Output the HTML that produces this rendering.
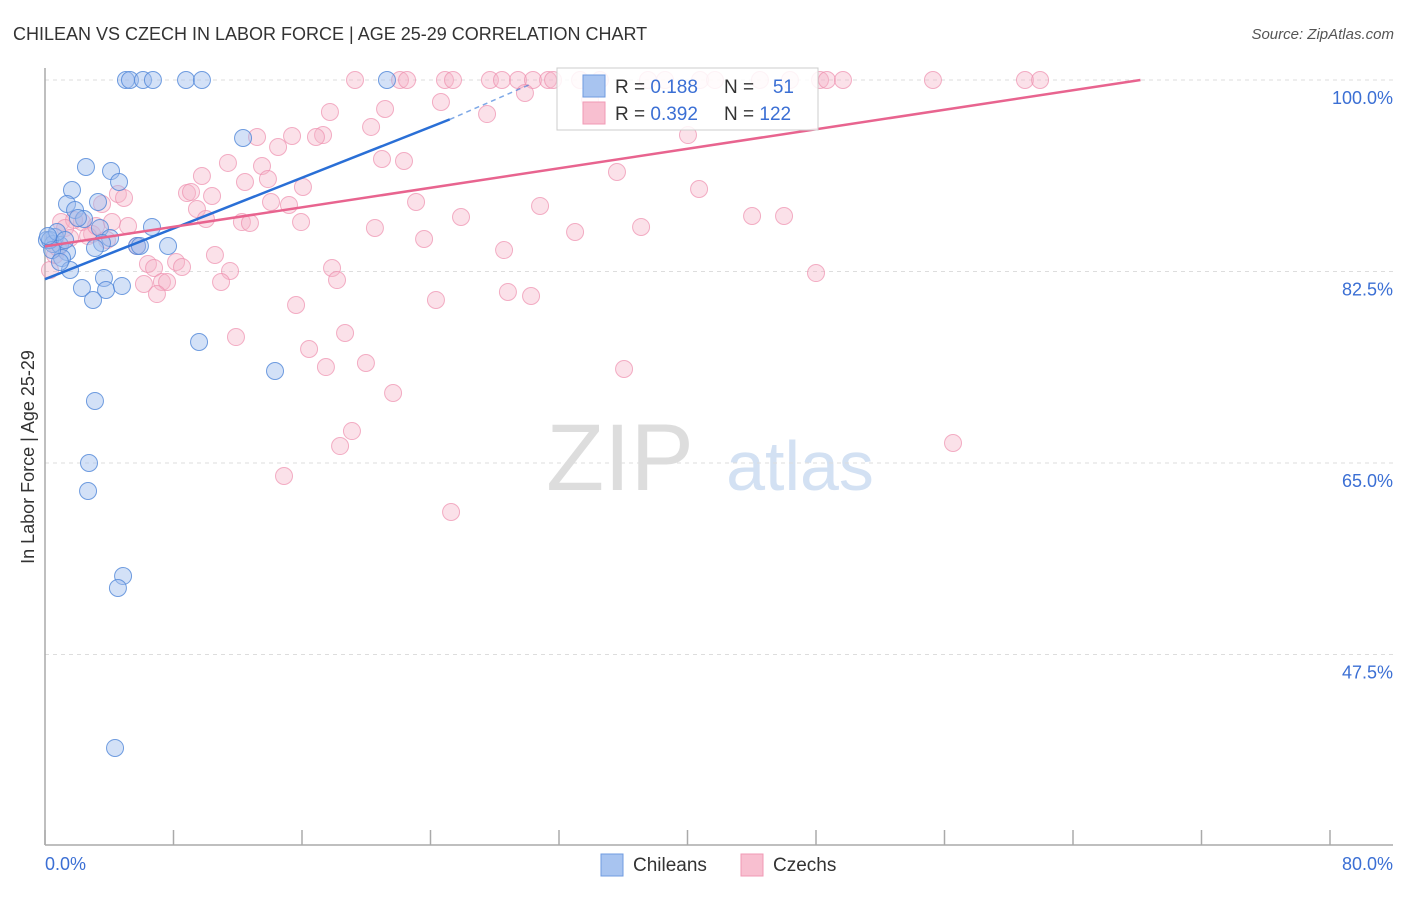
<!DOCTYPE html>
<html><head><meta charset="utf-8"><style>
body{margin:0;background:#fff;font-family:"Liberation Sans",sans-serif}
svg text{font-family:"Liberation Sans",sans-serif}
</style></head><body>
<svg id="c" width="1406" height="892" viewBox="0 0 1406 892" xmlns="http://www.w3.org/2000/svg">
<text x="13" y="40" font-size="18" fill="#333">CHILEAN VS CZECH IN LABOR FORCE | AGE 25-29 CORRELATION CHART</text>
<text x="1394" y="39" font-size="15" fill="#555" font-style="italic" text-anchor="end">Source: ZipAtlas.com</text>
<text x="620" y="490" font-size="95" fill="#ddd" font-family="Liberation Serif" text-anchor="middle">ZIP</text>
<text x="800" y="490" font-size="70" fill="#d3e1f3" text-anchor="middle">atlas</text>
<g id="grid"></g>
<g id="axes"></g>
<g id="pts"></g>
<g id="lines"></g>
<text transform="translate(34,457) rotate(-90)" font-size="18" fill="#333" text-anchor="middle">In Labor Force | Age 25-29</text>
<g>
<rect x="557" y="68" width="261" height="62" fill="#fff" fill-opacity="0.85" stroke="#ccc"/>
<rect x="583" y="75" width="22" height="22" fill="#a8c4f0" stroke="#6f9be0"/>
<rect x="583" y="102" width="22" height="22" fill="#f8bfd0" stroke="#f09ab5"/>
<text x="615" y="93" font-size="19" fill="#333">R = <tspan fill="#3b6fd4">0.188</tspan></text>
<text x="724" y="93" font-size="19" fill="#333">N =</text>
<text x="794" y="93" font-size="19" fill="#3b6fd4" text-anchor="end">51</text>
<text x="615" y="120" font-size="19" fill="#333">R = <tspan fill="#3b6fd4">0.392</tspan></text>
<text x="724" y="120" font-size="19" fill="#333">N = <tspan fill="#3b6fd4">122</tspan></text>
</g>
<g>
<rect x="601" y="854" width="22" height="22" fill="#a8c4f0" stroke="#6f9be0"/>
<text x="633" y="871" font-size="19" fill="#333">Chileans</text>
<rect x="741" y="854" width="22" height="22" fill="#f8bfd0" stroke="#f09ab5"/>
<text x="773" y="871" font-size="19" fill="#333">Czechs</text>
</g>
</svg>
<script>
const yTicks=[100,82.5,65,47.5];
const yTickLabels=["100.0%","82.5%","65.0%","47.5%"];
const xTicks=[0,8,16,24,32,40,48,56,64,72,80];
const chileanPx=[[126,80],[130,80],[143,80],[153,80],[186,80],[202,80],[387,80],[243,138],[86,167],[111,171],[119,182],[72,190],[67,204],[98,202],[75,210],[84,219],[152,227],[100,228],[55,237],[110,238],[47,240],[53,244],[60,245],[102,243],[137,246],[168,246],[95,248],[67,252],[62,258],[70,270],[82,288],[104,278],[106,290],[122,286],[93,300],[199,342],[275,371],[95,401],[89,463],[88,491],[123,576],[118,588],[115,748],[50,240],[57,232],[65,240],[78,218],[140,246],[52,250],[48,236],[60,262]];
const czechPx=[[355,80],[400,80],[407,80],[445,80],[453,80],[490,80],[502,80],[518,80],[533,80],[548,80],[553,80],[580,80],[600,80],[648,80],[665,80],[700,80],[715,80],[760,80],[790,80],[820,80],[827,80],[843,80],[933,80],[1025,80],[1040,80],[441,102],[525,93],[487,114],[590,100],[330,112],[385,109],[371,127],[257,137],[292,136],[323,135],[316,137],[278,147],[688,135],[228,163],[262,166],[382,159],[404,161],[202,176],[245,182],[268,179],[617,172],[699,189],[303,187],[187,193],[191,192],[212,196],[118,194],[124,198],[102,204],[271,202],[289,205],[197,209],[206,219],[242,222],[250,223],[301,222],[416,202],[461,217],[540,206],[752,216],[784,216],[61,222],[82,222],[74,220],[112,222],[128,226],[375,228],[424,239],[575,232],[641,227],[92,234],[107,240],[137,246],[504,250],[215,255],[148,264],[176,262],[182,267],[154,268],[230,271],[332,268],[816,273],[162,282],[167,282],[144,284],[157,294],[221,282],[337,280],[508,292],[531,296],[436,300],[296,305],[236,337],[345,333],[309,349],[326,367],[366,363],[624,369],[393,393],[352,431],[340,446],[953,443],[284,476],[451,512],[50,270],[55,255],[65,228],[70,238],[88,236],[96,226],[58,248]];
// convert picture readings into data values (x %, y %)
const chileanX=chileanPx.map(p=>+((p[0]-45)/1285*80).toFixed(2));
const chileanY=chileanPx.map(p=>+(100-(p[1]-80)/10.943).toFixed(2));
const czechX=czechPx.map(p=>+((p[0]-45)/1285*80).toFixed(2));
const czechY=czechPx.map(p=>+(100-(p[1]-80)/10.943).toFixed(2));
const chileanTrend=[[0,81.8],[25.2,96.4],[30.2,99.6]];
const czechTrend=[[0,84.8],[68.2,100]];

const NS="http://www.w3.org/2000/svg";
const X=v=>45+v/80*1285;
const Y=v=>80+(100-v)*10.943;
function mk(t,a,parent){const e=document.createElementNS(NS,t);for(const k in a)e.setAttribute(k,a[k]);document.getElementById(parent).appendChild(e);return e;}
yTicks.forEach((t,i)=>{
 const l=mk('line',{x1:45,x2:1393,y1:Y(t),y2:Y(t),stroke:'#ddd','stroke-dasharray':'4,4'},'grid');
 
 
 const tx=mk('text',{x:1393,y:Y(t)+24,'font-size':18,fill:'#3b6fd4','text-anchor':'end'},'grid');
 tx.textContent=yTickLabels[i];
 
 
});
const ya=mk('line',{x1:45,x2:45,y1:68,y2:845,stroke:'#aaa','stroke-width':1.5},'axes');


const xa=mk('line',{x1:45,x2:1393,y1:845,y2:845,stroke:'#aaa','stroke-width':1.5},'axes');


xTicks.forEach(t=>{
 const l=mk('line',{x1:X(t),x2:X(t),y1:830,y2:845,stroke:'#aaa','stroke-width':1.5},'axes');
 
 
});
const xl0=mk('text',{x:45,y:870,'font-size':18,fill:'#3b6fd4'},'axes');xl0.textContent='0.0%';


const xl1=mk('text',{x:1393,y:870,'font-size':18,fill:'#3b6fd4','text-anchor':'end'},'axes');xl1.textContent='80.0%';


czechX.forEach((v,i)=>{
 const c=mk('circle',{cx:X(v),cy:Y(czechY[i]),r:8.5,fill:'#f6b3c8','fill-opacity':0.4,stroke:'#ee8fae','stroke-opacity':0.7},'pts');
 
 
});
chileanX.forEach((v,i)=>{
 const c=mk('circle',{cx:X(v),cy:Y(chileanY[i]),r:8.5,fill:'#9dbdee','fill-opacity':0.45,stroke:'#4f86d8','stroke-opacity':0.8},'pts');
 
 
});
const b1=mk('line',{x1:X(chileanTrend[0][0]),y1:Y(chileanTrend[0][1]),x2:X(chileanTrend[1][0]),y2:Y(chileanTrend[1][1]),stroke:'#2a6fd6','stroke-width':2.5},'lines');


const b2=mk('line',{x1:X(chileanTrend[1][0]),y1:Y(chileanTrend[1][1]),x2:X(chileanTrend[2][0]),y2:Y(chileanTrend[2][1]),stroke:'#2a6fd6','stroke-width':1.5,'stroke-dasharray':'5,4','stroke-opacity':0.6},'lines');


const p1=mk('line',{x1:X(czechTrend[0][0]),y1:Y(czechTrend[0][1]),x2:X(czechTrend[1][0]),y2:Y(czechTrend[1][1]),stroke:'#e8648f','stroke-width':2.5},'lines');


</script>
</body></html>
